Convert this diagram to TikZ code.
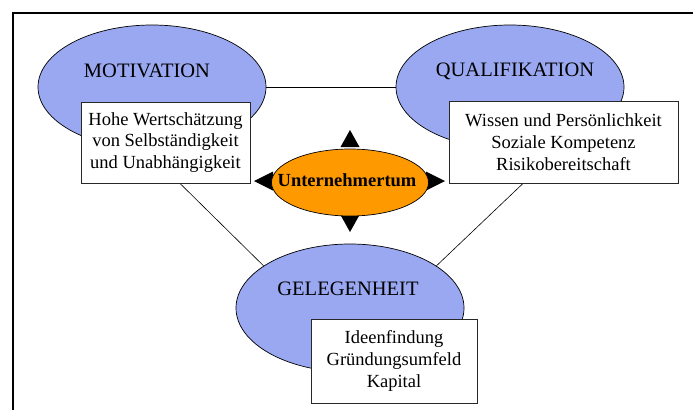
\documentclass[tikz,border=0pt]{standalone}
\usepackage{fontspec}
\setmainfont{Liberation Serif}
\usetikzlibrary{shapes.geometric,calc,backgrounds}
\definecolor{blob}{RGB}{153,168,240}
\definecolor{core}{RGB}{255,153,0}
\definecolor{boxline}{RGB}{40,40,40}
\tikzset{
  blobshape/.style={ellipse, draw=black, line width=0.7pt, fill=blob, inner sep=0pt,
    minimum width=228pt, minimum height=124pt},
  title/.style={inner sep=0pt, font=\fontsize{20.5}{24}\selectfont},
  infobox/.style={rectangle, draw=boxline, line width=0.9pt, fill=white, align=center,
    inner sep=0pt, font=\fontsize{18.5}{21.8}\selectfont},
  link/.style={draw=black, line width=0.6pt},
  headtip/.style={fill=black},
  frameline/.style={draw=black, line width=2pt, line join=miter}
}
\begin{document}
\begin{tikzpicture}[x=1pt,y=-1pt]
\useasboundingbox (0,0) rectangle (693,410);
\draw[frameline] (13,410) -- (13,13) -- (693,13);

% the three factor ellipses
\node[blobshape] (mot) at (152,87) {};
\node[blobshape] (qual) at (510,87) {};
\node[blobshape, minimum height=128pt] (gel) at (350,308) {};
\node[title] (motT) at (147,71) {MOTIVATION};
\node[title] (qualT) at (515,71) {QUALIFIKATION};
\node[title] (gelT) at (348,289) {GELEGENHEIT};

% explanation boxes
\node[infobox, minimum width=169pt, minimum height=81pt] (mbox) at (165.5,142.5)
  {Hohe Wertschätzung\\von Selbständigkeit\\und Unabhängigkeit};
\node[infobox, minimum width=229pt, minimum height=82pt] (qbox) at (563.5,142)
  {Wissen und Persönlichkeit\\Soziale Kompetenz\\Risikobereitschaft};
\node[infobox, minimum width=166pt, minimum height=84pt] (gbox) at (394,361)
  {Ideenfindung\\Gründungsumfeld\\Kapital};

% connecting lines behind everything
\begin{scope}[on background layer]
  \draw[link] (mot.center) -- (qual.center);
  \coordinate (mgEnd) at ($(mbox.south)+(14.5,0)$);
  \coordinate (qgEnd) at ($(qbox.south)+(-40.5,0)$);
  \draw[link] (gel.154.5) -- (mgEnd);
  \draw[link] (gel.26.3) -- (qgEnd);
\end{scope}

% four arrow heads around the core
\coordinate (hub) at (350,181);
\fill[headtip] ($(hub)+(0,-51)$) -- ($(hub)+(9.5,-34)$) -- ($(hub)+(-9.5,-34)$) -- cycle;
\fill[headtip] ($(hub)+(0,51)$) -- ($(hub)+(9.5,34)$) -- ($(hub)+(-9.5,34)$) -- cycle;
\fill[headtip] ($(hub)+(-96,0)$) -- ($(hub)+(-77,-9.5)$) -- ($(hub)+(-77,9.5)$) -- cycle;
\fill[headtip] ($(hub)+(95,0)$) -- ($(hub)+(76,-9.5)$) -- ($(hub)+(76,9.5)$) -- cycle;

% central node: fixed-size ellipse with its label on top
\node[ellipse, draw=black, line width=0.7pt, fill=core, inner sep=0pt,
  minimum width=157pt, minimum height=67pt] (ue) at (350,182.5) {};
\node[inner sep=0pt, font=\fontsize{18.5}{22}\selectfont\bfseries] (ueT) at (347,180)
  {Unternehmertum};
\end{tikzpicture}
\end{document}
